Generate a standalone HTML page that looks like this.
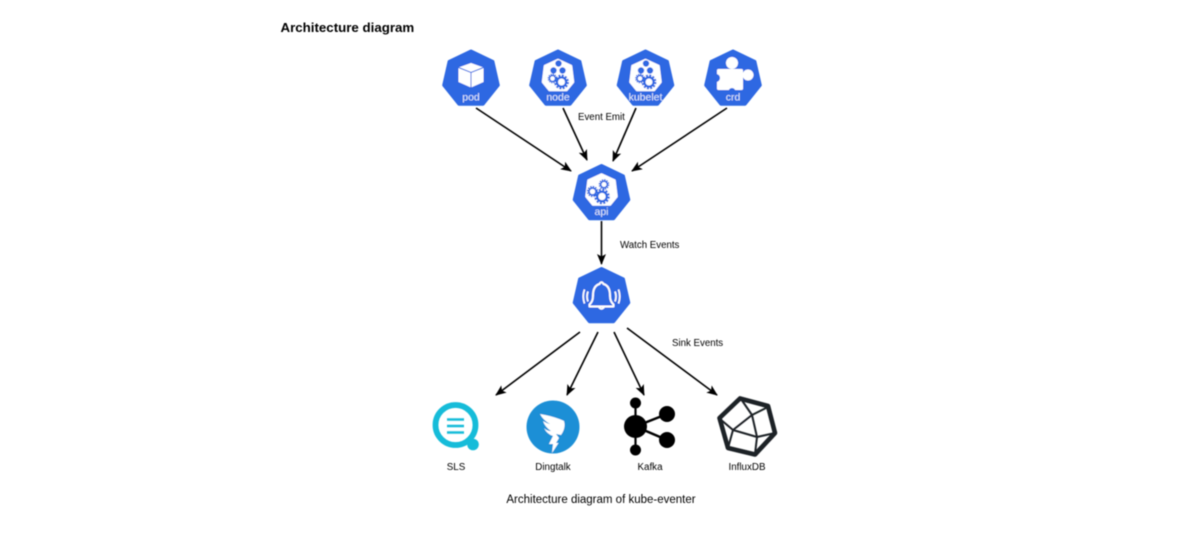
<!DOCTYPE html>
<html><head><meta charset="utf-8"><style>
html,body{margin:0;padding:0;background:#fff;width:1200px;height:537px;overflow:hidden}
svg{display:block}
text{font-family:"Liberation Sans",sans-serif;fill:#000}
.w{fill:#fff;opacity:.85;font-size:10.5px;text-anchor:middle}
.l{font-size:9.7px}
.c{font-size:9.8px;text-anchor:middle}
</style></head><body>
<svg width="1200" height="537" viewBox="0 0 1200 537" xmlns="http://www.w3.org/2000/svg">
<defs>
<filter id="b" x="-5%" y="-5%" width="110%" height="110%"><feGaussianBlur stdDeviation="0.4"/></filter>
<marker id="a" markerWidth="12" markerHeight="10" refX="10" refY="4.5" orient="auto" markerUnits="userSpaceOnUse"><path d="M0 0L11 4.5L0 9L2.5 4.5Z" fill="#000"/></marker>
<polygon id="hex" points="0,-28 21.9,-17.5 27.3,6.2 12.1,25.2 -12.1,25.2 -27.3,6.2 -21.9,-17.5" fill="#2d68e2" stroke="#2d68e2" stroke-width="3" stroke-linejoin="round"/>
<polygon id="shield" points="0,-19 13,-13 15,3 8.5,11 -8.5,11 -15,3 -13,-13" fill="#fff" stroke="#fff" stroke-width="2.5" stroke-linejoin="round"/>
<g id="gear"><circle r="4.4" fill="none" stroke="#2d68e2" stroke-width="2.2"/><circle r="6.2" fill="none" stroke="#2d68e2" stroke-width="1.8" stroke-dasharray="2 1.25"/></g>
<g id="nodeicon">
<use href="#shield"/>
<circle cx="0.5" cy="-15.5" r="3.2" fill="#2d68e2"/><circle cx="-4.5" cy="-8.5" r="3.2" fill="#2d68e2"/><circle cx="4.5" cy="-8.5" r="3.2" fill="#2d68e2"/>
<g transform="translate(-5.5,-0.5) scale(.68)"><use href="#gear"/></g>
<g transform="translate(3.500,3) scale(1.05)"><use href="#gear"/></g>
</g>
</defs>
<g filter="url(#b)">
<text x="280.5" y="32" font-size="13.3" font-weight="700">Architecture diagram</text>

<!-- pod -->
<g transform="translate(471,79)"><use href="#hex"/>
<path d="M0 -16L12.5 -11.5L12.5 3L0 8.5L-12.5 3L-12.5 -11.5Z" fill="#fff"/>
<path d="M-12.5 -11.5L0 -6.5L12.5 -11.5M0 -6.5L0 8.5" fill="none" stroke="#2d68e2" stroke-width="1"/>
<text class="w" y="21.5">pod</text></g>

<!-- node -->
<g transform="translate(558,79)"><use href="#hex"/><use href="#nodeicon"/>
<text class="w" y="21.5">node</text></g>

<!-- kubelet -->
<g transform="translate(645.5,79)"><use href="#hex"/><use href="#nodeicon"/>
<text class="w" y="21.5">kubelet</text></g>

<!-- crd -->
<g transform="translate(733,79)"><use href="#hex"/>
<rect x="-16" y="-10" width="26" height="21" rx="1.5" fill="#fff"/>
<circle cx="-1" cy="-16" r="6" fill="#fff"/>
<circle cx="15" cy="-4" r="5.5" fill="#fff"/>
<circle cx="-17" cy="-1" r="4" fill="#2d68e2"/>
<circle cx="-1" cy="12.5" r="3.5" fill="#2d68e2"/>
<text class="w" y="21.5">crd</text></g>

<!-- api -->
<g transform="translate(601.5,193.5)"><use href="#hex"/>
<use href="#shield"/>
<g transform="translate(-9,-2) scale(.8)"><use href="#gear"/></g>
<g transform="translate(2.5,-9) scale(.75)"><use href="#gear"/></g>
<g transform="translate(0.5,3) scale(1.1)"><use href="#gear"/></g>
<text class="w" y="21.5">api</text></g>

<!-- bell -->
<g transform="translate(601.5,296.5)"><use href="#hex"/>
<path d="M-2 -12.5Q0 -16 2 -12.5C7 -11 8.5 -6 8.5 -1C8.5 4 10 6 12 8L12 10L-12 10L-12 8C-10 6 -8.5 4 -8.5 -1C-8.5 -6 -7 -11 -2 -12.5Z M-3 10Q0 14.5 3 10" fill="none" stroke="#fff" stroke-width="2" stroke-linejoin="round"/>
<path d="M-13.5 -5Q-15.5 0 -13.5 5M-17 -7Q-19.5 0 -17 7M13.5 -5Q15.5 0 13.5 5M17 -7Q19.5 0 17 7" fill="none" stroke="#fff" stroke-width="1.7"/></g>

<!-- connectors -->
<g stroke="#000" stroke-width="1.6" fill="none">
<line x1="476" y1="108" x2="571" y2="171" marker-end="url(#a)"/>
<line x1="563" y1="108" x2="587" y2="160" marker-end="url(#a)"/>
<line x1="636" y1="108" x2="613" y2="161" marker-end="url(#a)"/>
<line x1="727" y1="108" x2="632" y2="171" marker-end="url(#a)"/>
<line x1="601.5" y1="221" x2="601.5" y2="264" marker-end="url(#a)"/>
<line x1="580" y1="332" x2="496" y2="395" marker-end="url(#a)"/>
<line x1="598" y1="332" x2="567" y2="395" marker-end="url(#a)"/>
<line x1="614" y1="332" x2="644" y2="395" marker-end="url(#a)"/>
<line x1="627" y1="328" x2="717" y2="395" marker-end="url(#a)"/>
</g>

<text class="l" x="578" y="120">Event Emit</text>
<text class="l" x="620" y="248">Watch Events</text>
<text class="l" x="672" y="346">Sink Events</text>

<!-- SLS -->
<circle cx="455.5" cy="425" r="20" fill="none" stroke="#18bcd9" stroke-width="5.8"/>
<circle cx="473" cy="444.5" r="5.8" fill="#18bcd9"/>
<line x1="467" y1="438" x2="472" y2="444" stroke="#18bcd9" stroke-width="5"/>
<g stroke="#18bcd9" stroke-width="2.6"><line x1="447" y1="419.5" x2="464" y2="419.5"/><line x1="447" y1="426" x2="464" y2="426"/><line x1="447" y1="432.5" x2="464" y2="432.5"/></g>

<!-- Dingtalk -->
<circle cx="553" cy="427" r="26.5" fill="#1a8fd6"/>
<path d="M540 414Q553 416 564 421Q566 428 561 435L556 434L559 438L556 443L558.5 443L552 453L553 444L549 444L553 436Q547 434 544 428Q547 431 551 431Q545 427 543 421Q546 423 550 424Q543 420 540 414Z" fill="#fff"/>

<!-- Kafka -->
<g fill="#000" stroke="#000">
<circle cx="635.5" cy="426.5" r="11.5" stroke="none"/>
<circle cx="635.5" cy="403" r="5.5" stroke="none"/>
<circle cx="635.5" cy="450" r="5.5" stroke="none"/>
<circle cx="667" cy="414" r="8" stroke="none"/>
<circle cx="667" cy="440" r="8" stroke="none"/>
<line x1="635.5" y1="403" x2="635.5" y2="450" stroke-width="2.2"/>
<line x1="635.5" y1="426.5" x2="667" y2="414" stroke-width="2.5"/>
<line x1="635.5" y1="426.5" x2="667" y2="440" stroke-width="2.5"/>
</g>

<!-- InfluxDB -->
<g fill="none" stroke="#1e2025" stroke-linejoin="round">
<path d="M740 398.500L768 406L775 433L755 454.500L728 448L719.500 418Z" stroke-width="4.6"/>
<path d="M741 399L752 415L768 407M752 415L757 437L775 433M757 437L733 430L752 415M733 430L720 419M733 430L728 448M757 437L755 454" stroke-width="2"/>
</g>

<text class="c" x="456" y="470">SLS</text>
<text class="c" x="553" y="470">Dingtalk</text>
<text class="c" x="650" y="470">Kafka</text>
<text class="c" x="747" y="470">InfluxDB</text>
<text x="601" y="503" font-size="11.5" text-anchor="middle">Architecture diagram of kube-eventer</text>
</g>
</svg>
</body></html>
